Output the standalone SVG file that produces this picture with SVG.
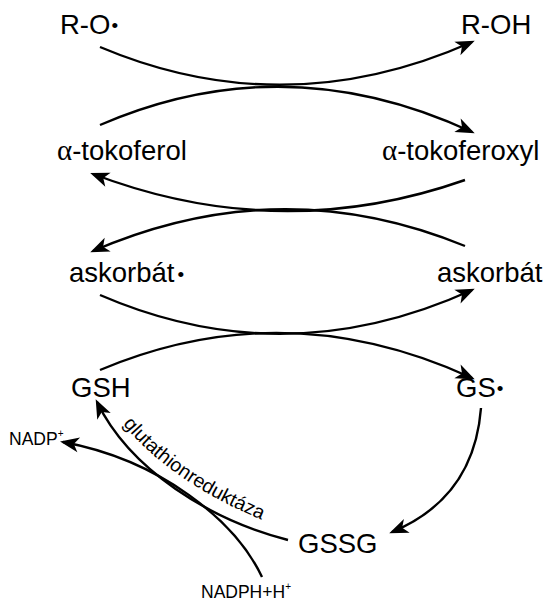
<svg xmlns="http://www.w3.org/2000/svg" width="557" height="601" viewBox="0 0 557 601">
<defs>
<marker id="ah" markerUnits="userSpaceOnUse" viewBox="-20 -10 24 20" refX="0" refY="0" markerWidth="24" markerHeight="20" orient="auto">
<path d="M3,0 L-16,-7.5 L-11,0 L-16,7.5 Z" fill="#000"/>
</marker>
</defs>
<style>
.lbl{font-family:"Liberation Sans",Arial,sans-serif;font-size:27.5px;fill:#000}
.sm{font-family:"Liberation Sans",Arial,sans-serif;font-size:17.5px;fill:#000}
.gr{font-family:"Liberation Sans",Arial,sans-serif;font-size:19.5px;fill:#000}
.al{font-family:"Liberation Serif","Times New Roman",serif;font-size:29px}
.dot{font-size:19px}
.c{fill:none;stroke:#000;stroke-width:2.4;marker-end:url(#ah)}
</style>
<rect width="557" height="601" fill="#fff"/>
<g id="connectors">
<path class="c" d="M100,47 Q285,125 472,42"/>
<path class="c" d="M100,125 Q285,45 472,132"/>
<path class="c" d="M465,180 Q280,245 93,174"/>
<path class="c" d="M465,246 Q280,170 93,251"/>
<path class="c" d="M100,295 Q285,375 472,290"/>
<path class="c" d="M100,370 Q285,292 472,378"/>
<path class="c" d="M481,408 Q474,498 392,532"/>
<path class="c" d="M288,540 C210,520 130,470 97,402"/>
<path class="c" d="M262,577 C235,520 160,460 63,442"/>
</g>
<g id="n-ro"><text class="lbl" x="60" y="34">R-O<tspan class="dot" dx="1" dy="-2">•</tspan></text></g>
<g id="n-roh"><text class="lbl" x="461" y="34">R-OH</text></g>
<g id="n-tokoferol"><text class="lbl" x="57" y="160"><tspan class="al">α</tspan>-tokoferol</text></g>
<g id="n-tokoferoxyl"><text class="lbl" x="382" y="160"><tspan class="al">α</tspan>-tokoferoxyl</text></g>
<g id="n-askorbat-rad"><text class="lbl" x="69" y="282">askorbát<tspan class="dot" dx="3" dy="-1">•</tspan></text></g>
<g id="n-askorbat"><text class="lbl" x="437" y="282">askorbát</text></g>
<g id="n-gsh"><text class="lbl" x="71" y="397">GSH</text></g>
<g id="n-gs"><text class="lbl" x="456" y="397">GS<tspan class="dot" dx="1" dy="-2">•</tspan></text></g>
<g id="n-gssg"><text class="lbl" x="298" y="553">GSSG</text></g>
<g id="n-nadp"><text class="sm" x="9" y="445">NADP<tspan font-size="10" dy="-8">+</tspan></text></g>
<g id="n-nadph"><text class="sm" x="201" y="598">NADPH+H<tspan font-size="10" dy="-8">+</tspan></text></g>
<g id="enzyme">
<path id="tp" d="M123,424 C151,458 196,494 272,524" fill="none"/>
<text class="gr"><textPath href="#tp">glutathionreduktáza</textPath></text>
</g>
</svg>
